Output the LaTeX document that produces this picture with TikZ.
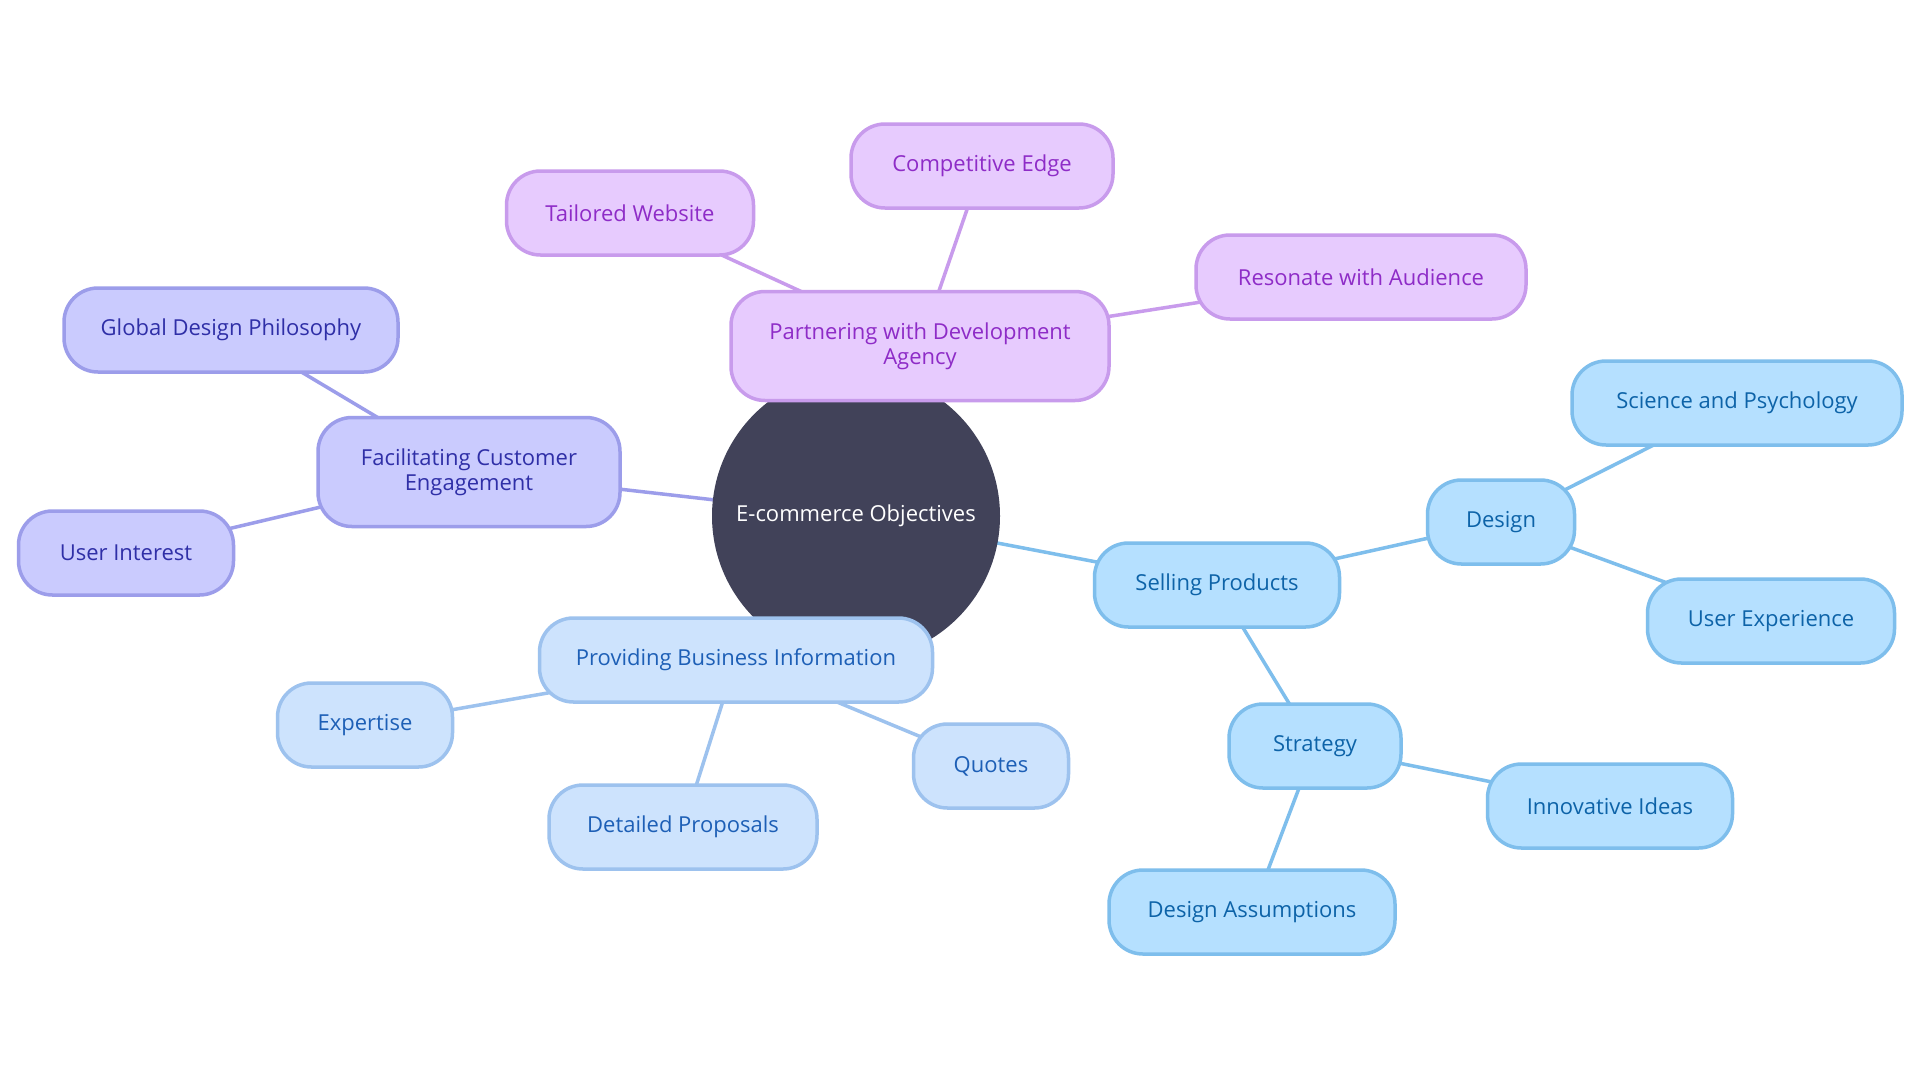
\documentclass[tikz,border=0pt]{standalone}
\usepackage{fontspec}
\setmainfont{Open Sans}
\usetikzlibrary{backgrounds}
\definecolor{hub}{HTML}{414259}
\definecolor{ppfill}{HTML}{E7CBFE}
\definecolor{ppline}{HTML}{C89BEC}
\definecolor{pptext}{HTML}{8E2CC7}
\definecolor{pwfill}{HTML}{CACBFE}
\definecolor{pwline}{HTML}{9C9DEA}
\definecolor{pwtext}{HTML}{2F2FA7}
\definecolor{pbfill}{HTML}{CDE3FD}
\definecolor{pbline}{HTML}{9DC2EE}
\definecolor{pbtext}{HTML}{1D5FB6}
\definecolor{skfill}{HTML}{B5E0FF}
\definecolor{skline}{HTML}{7EBEEC}
\definecolor{sktext}{HTML}{0D63A8}

\begin{document}
\begin{tikzpicture}[x=1pt, y=-1pt, font=\fontsize{22}{25}\selectfont,
  pill/.style={rectangle, rounded corners=34pt, line width=3.5pt,
               minimum height=84pt, align=center, inner sep=0pt},
  pp/.style={pill, draw=ppline, fill=ppfill, text=pptext},
  pw/.style={pill, draw=pwline, fill=pwfill, text=pwtext},
  pb/.style={pill, draw=pbline, fill=pbfill, text=pbtext},
  sk/.style={pill, draw=skline, fill=skfill, text=sktext},
  hubnode/.style={circle, fill=hub, text=white, minimum size=288pt, inner sep=0pt},
  ln/.style={line width=3.5pt}]
  \useasboundingbox (0,0) rectangle (1920,1080);
  % centre
  \node[hubnode] (obj) at (856,516) {E-commerce Objectives};
  % purple branch
  \node[pp, minimum width=378pt, minimum height=109pt] (agency) at (920,346) {Partnering with Development\\Agency};
  \node[pp, minimum width=262pt] (edge) at (982,166) {Competitive Edge};
  \node[pp, minimum width=247pt] (tailor) at (630,213) {Tailored Website};
  \node[pp, minimum width=330pt] (reson) at (1361,277) {Resonate with Audience};
  % periwinkle branch
  \node[pw, minimum width=302pt, minimum height=109pt] (engage) at (469,472) {Facilitating Customer\\Engagement};
  \node[pw, minimum width=334pt] (global) at (231,330) {Global Design Philosophy};
  \node[pw, minimum width=215pt] (interest) at (126,553) {User Interest};
  % pale blue branch
  \node[pb, minimum width=393pt] (info) at (736,660) {Providing Business Information};
  \node[pb, minimum width=175pt] (expert) at (365,725) {Expertise};
  \node[pb, minimum width=268pt] (propos) at (683,827) {Detailed Proposals};
  \node[pb, minimum width=155pt] (quotes) at (991,766) {Quotes};
  % sky blue branch
  \node[sk, minimum width=245pt] (sell) at (1217,585) {Selling Products};
  \node[sk, minimum width=147pt] (design) at (1501,522) {Design};
  \node[sk, minimum width=330pt] (science) at (1737,403) {Science and Psychology};
  \node[sk, minimum width=247pt] (ux) at (1771,621) {User Experience};
  \node[sk, minimum width=172pt] (strat) at (1315,746) {Strategy};
  \node[sk, minimum width=245pt] (ideas) at (1610,806) {Innovative Ideas};
  \node[sk, minimum width=286pt] (assume) at (1252,912) {Design Assumptions};
  % connectors
  \begin{scope}[on background layer]
    \fill[white] (0,0) rectangle (1920,1080);
    \draw[ln, ppline] (obj.center) -- (agency.center);
    \draw[ln, ppline] (agency.center) -- (edge.center);
    \draw[ln, ppline] (agency.center) -- (tailor.center);
    \draw[ln, ppline] (agency.center) -- (reson.center);
    \draw[ln, pwline] (obj.center) -- (engage.center);
    \draw[ln, pwline] (engage.center) -- (global.center);
    \draw[ln, pwline] (engage.center) -- (interest.center);
    \draw[ln, pbline] (obj.center) -- (info.center);
    \draw[ln, pbline] (info.center) -- (expert.center);
    \draw[ln, pbline] (info.center) -- (propos.center);
    \draw[ln, pbline] (info.center) -- (quotes.center);
    \draw[ln, skline] (obj.center) -- (sell.center);
    \draw[ln, skline] (sell.center) -- (design.center);
    \draw[ln, skline] (design.center) -- (science.center);
    \draw[ln, skline] (design.center) -- (ux.center);
    \draw[ln, skline] (sell.center) -- (strat.center);
    \draw[ln, skline] (strat.center) -- (ideas.center);
    \draw[ln, skline] (strat.center) -- (assume.center);
  \end{scope}
\end{tikzpicture}
\end{document}
